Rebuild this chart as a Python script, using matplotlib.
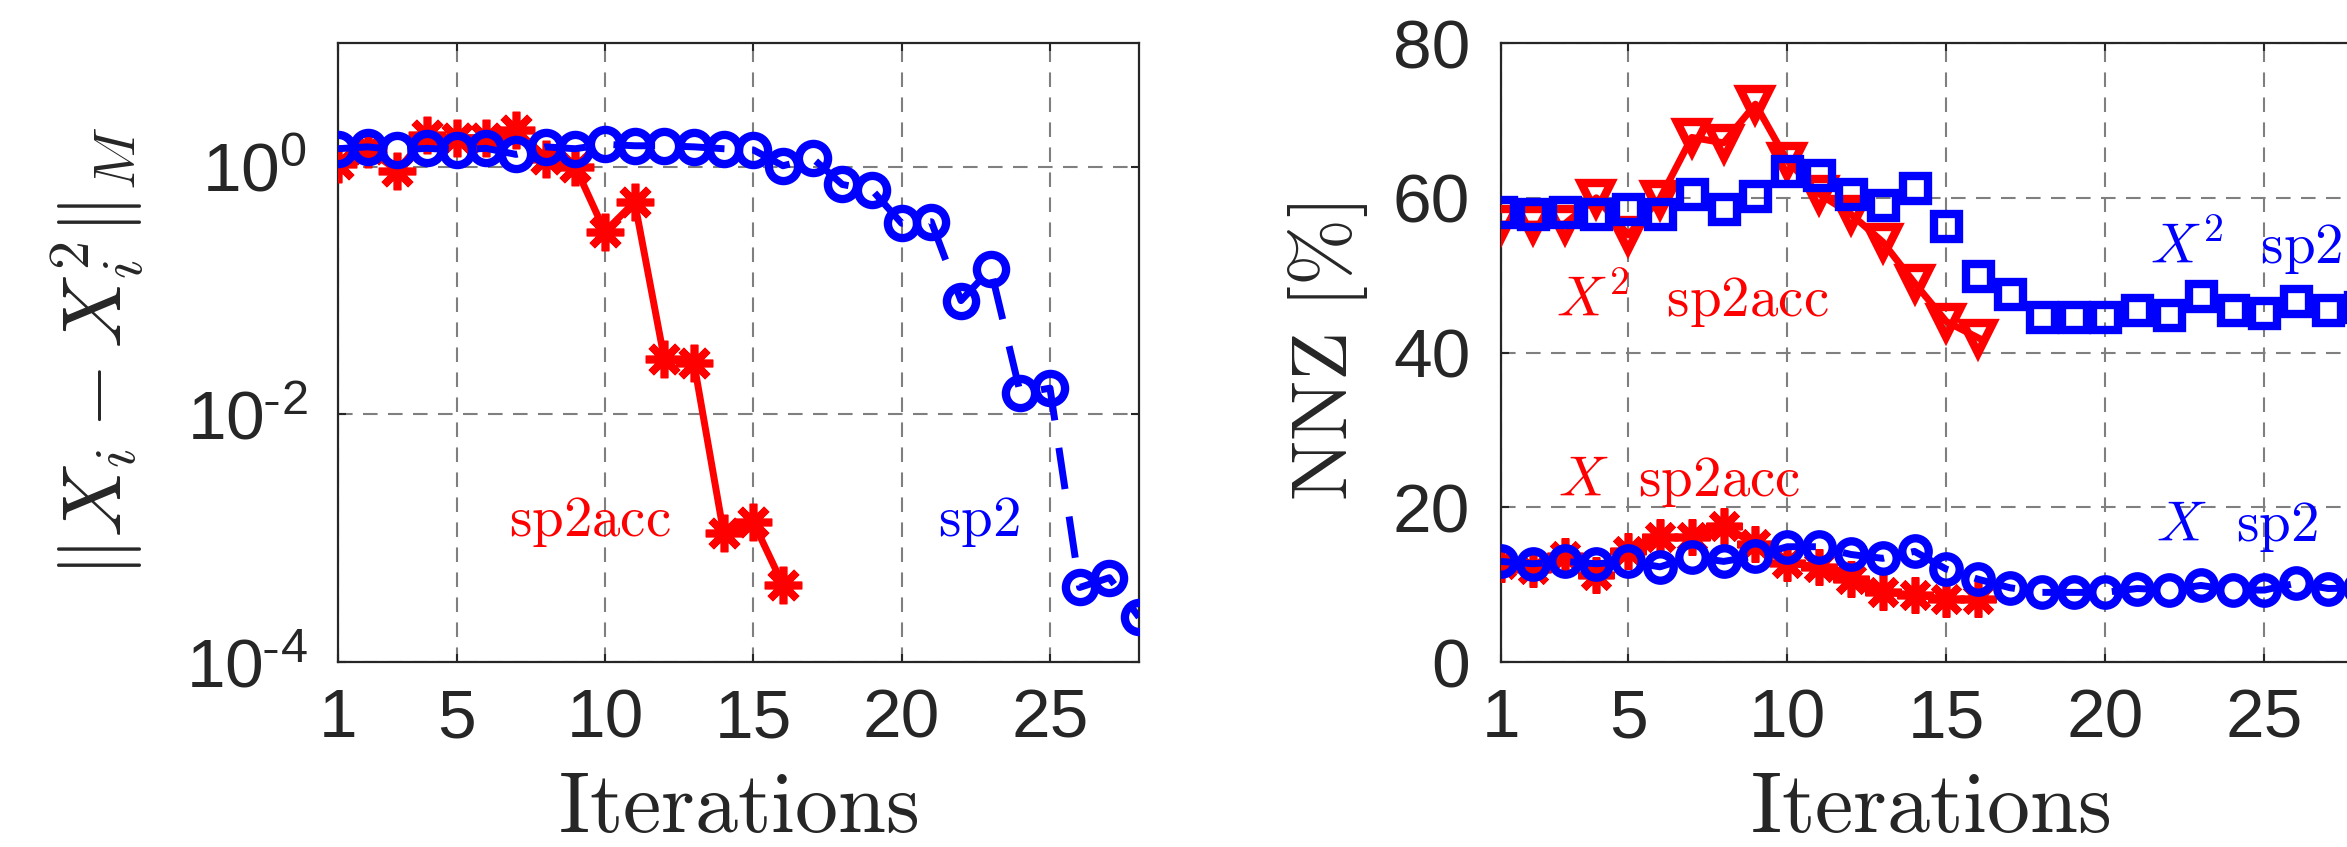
import numpy as np
import matplotlib
matplotlib.use("Agg")
import matplotlib.pyplot as plt

plt.rcParams['font.family'] = ['Liberation Sans', 'DejaVu Sans']
plt.rcParams['mathtext.fontset'] = 'cm'

# residual norm ||X_i - X_i^2||_M (left panel)
it_acc = np.arange(1, 17)
res_acc = [1.05, 1.4, 0.93, 1.8, 1.7, 1.7, 2.0, 1.15, 1.0, 0.30, 0.52, 0.028, 0.026, 0.0011, 0.00135, 0.00042]
it_sp2 = np.arange(1, 29)
res_sp2 = [1.4, 1.45, 1.37, 1.41, 1.37, 1.41, 1.26, 1.45, 1.4, 1.52, 1.48, 1.48, 1.45, 1.4, 1.37,
           1.02, 1.17, 0.72, 0.65, 0.35, 0.36, 0.083, 0.15, 0.0148, 0.0163, 0.0004, 0.00048, 0.00023]

# NNZ in percent (right panel)
x2_acc = [56.6, 56.6, 56.6, 60.0, 55.2, 59.9, 67.8, 67.1, 72.1, 64.8, 60.5, 57.9, 54.3, 49.0, 44.0, 41.9]
x2_sp2 = [58.2, 57.9, 58.2, 57.9, 58.6, 57.9, 60.5, 58.5, 60.2, 63.4, 62.9, 60.5, 59.1, 61.2, 56.3,
          49.9, 47.6, 44.6, 44.6, 44.6, 45.5, 44.8, 47.3, 45.5, 45.1, 46.7, 45.5, 45.9]
x_acc = [12.7, 12.0, 13.7, 11.2, 14.3, 16.1, 16.1, 17.6, 15.2, 12.8, 12.3, 10.7, 9.0, 8.7, 8.1, 8.1]
x_sp2 = [13.0, 12.7, 13.0, 12.7, 13.0, 12.3, 13.6, 13.0, 13.7, 14.9, 14.9, 13.9, 13.4, 14.3, 12.0,
         10.7, 9.6, 9.0, 9.0, 9.0, 9.5, 9.3, 9.9, 9.3, 9.3, 10.2, 9.5, 9.6]

xticks = [1, 5, 10, 15, 20, 25]
red = '#ff0000'
blue = '#0000ff'
star = (8, 2, 0)

fig = plt.figure(figsize=(23.47, 8.47), dpi=100)
ax1 = fig.add_axes([0.144, 0.2184, 0.3413, 0.7308])
ax2 = fig.add_axes([0.6395, 0.2184, 0.366, 0.7308])


def style(ax):
    ax.set_xlim(1, 28)
    ax.set_xticks(xticks)
    ax.grid(True, color='#7f7f7f', linestyle=(0, (7, 5)), linewidth=1.5)
    ax.tick_params(direction='in', top=True, right=True, length=6, width=1.5,
                   labelsize=50, colors='#262626')
    ax.tick_params(axis='x', pad=18)
    ax.tick_params(axis='y', pad=22)
    for s in ax.spines.values():
        s.set_color('#262626')
        s.set_linewidth(1.6)
    ax.set_xlabel(r'$\mathrm{Iterations}$', fontsize=62, color='#262626')
    ax.xaxis.set_label_coords(0.5, -0.175)


# left panel
ax1.semilogy(it_acc, res_acc, '-', color=red, lw=5, marker=star, ms=27, mew=5.5, zorder=3)
ax1.semilogy(it_sp2, res_sp2, color=blue, lw=5, dashes=(6, 4), marker='o', ms=21, mew=6,
             mfc='none', zorder=4)
ax1.set_ylim(1e-4, 10)
ax1.set_yticks([1e-4, 1e-2, 1])
ax1.set_yticklabels([r'$\mathdefault{10^{\text{-}4}}$', r'$\mathdefault{10^{\text{-}2}}$',
                     r'$\mathdefault{10^{0}}$'])
ax1.minorticks_off()
style(ax1)
ax1.set_ylabel(r'$\|X_i-X_i^2\|_M$', fontsize=60, color='#262626')
ax1.yaxis.set_label_coords(-0.238, 0.5)
ax1.text(9.5, 10 ** -2.98, r'$\mathrm{sp2acc}$', color=red, fontsize=41, ha='center', va='baseline')
ax1.text(22.6, 10 ** -2.98, r'$\mathrm{sp2}$', color=blue, fontsize=41, ha='center', va='baseline')

# right panel
ax2.plot(it_acc, x2_acc, '-', color=red, lw=5, marker='v', ms=22, mew=6, mfc='none', zorder=3)
ax2.plot(it_sp2, x2_sp2, linestyle='none', color=blue, marker='s', ms=18, mew=6, mfc='none', zorder=4)
ax2.plot(it_acc, x_acc, '-', color=red, lw=5, marker=star, ms=26, mew=5.5, zorder=3)
ax2.plot(it_sp2, x_sp2, color=blue, lw=5, dashes=(6, 4), marker='o', ms=19, mew=6,
         mfc='none', zorder=4)
ax2.set_ylim(0, 80)
ax2.set_yticks([0, 20, 40, 60, 80])
style(ax2)
ax2.set_ylabel(r'$\mathrm{NNZ\ [\%]}$', fontsize=58, color='#262626')
ax2.yaxis.set_label_coords(-0.152, 0.5)
ax2.text(2.73, 44.6, r'$X^2\ \ \mathrm{sp2acc}$', color=red, fontsize=41, va='baseline')
ax2.text(2.8, 21.5, r'$X\ \ \mathrm{sp2acc}$', color=red, fontsize=41, va='baseline')
ax2.text(21.4, 51.5, r'$X^2\ \ \mathrm{sp2}$', color=blue, fontsize=41, va='baseline')
ax2.text(21.6, 15.7, r'$X\ \ \mathrm{sp2}$', color=blue, fontsize=41, va='baseline')

fig.savefig('out.png', dpi=100)
